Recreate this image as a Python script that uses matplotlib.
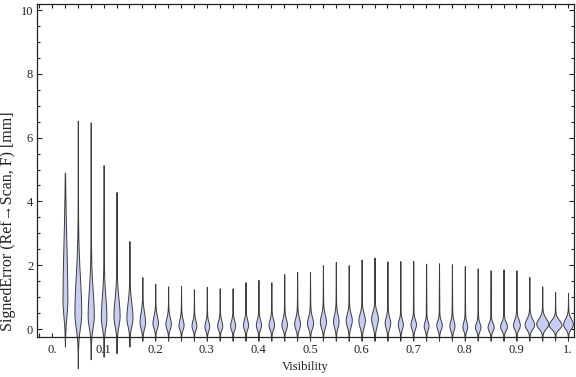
import numpy as np
import matplotlib
matplotlib.use("Agg")
import matplotlib.pyplot as plt
from matplotlib.ticker import FixedLocator, FixedFormatter, MultipleLocator

# ---- data ----
positions = [0.025, 0.05, 0.075, 0.1, 0.125, 0.15, 0.175, 0.2, 0.225, 0.25,
             0.275, 0.3, 0.325, 0.35, 0.375, 0.4, 0.425, 0.45, 0.475, 0.5,
             0.525, 0.55, 0.575, 0.6, 0.625, 0.65, 0.675, 0.7, 0.725, 0.75,
             0.775, 0.8, 0.825, 0.85, 0.875, 0.9, 0.925, 0.95, 0.975, 1.0]
mode_y = [0.9, 0.5, 0.4, 0.35, 0.4, 0.35, 0.22, 0.18, 0.15, 0.12,
          0.10, 0.08, 0.10, 0.10, 0.12, 0.12, 0.12, 0.13, 0.15, 0.18,
          0.22, 0.23, 0.28, 0.28, 0.33, 0.20, 0.15, 0.15, 0.10, 0.12,
          0.10, 0.08, 0.06, 0.06, 0.08, 0.12, 0.14, 0.16, 0.13, 0.15]
# full width of the violin at its widest point (x units)
peak_width = [0.0078, 0.0116, 0.0103, 0.0091, 0.0103, 0.0103, 0.0091, 0.0091, 0.0091, 0.0083,
              0.0078, 0.0078, 0.0083, 0.0083, 0.0083, 0.0083, 0.0091, 0.0091, 0.0097, 0.0103,
              0.0103, 0.0091, 0.0103, 0.0110, 0.0116, 0.0091, 0.0083, 0.0091, 0.0078, 0.0091,
              0.0083, 0.0078, 0.0091, 0.0103, 0.0116, 0.0116, 0.0169, 0.0219, 0.0233, 0.0174]
spread_up = [1.8, 1.1, 0.8, 0.65, 0.55, 0.45, 0.30, 0.22, 0.20, 0.18,
             0.16, 0.15, 0.16, 0.16, 0.17, 0.17, 0.18, 0.18, 0.20, 0.20,
             0.22, 0.22, 0.20, 0.20, 0.20, 0.17, 0.14, 0.14, 0.13, 0.14,
             0.16, 0.14, 0.13, 0.13, 0.14, 0.17, 0.17, 0.17, 0.15, 0.17]
spread_dn = [0.50, 0.45, 0.35, 0.30, 0.30, 0.25, 0.20, 0.15, 0.14, 0.13,
             0.12, 0.12, 0.12, 0.12, 0.13, 0.13, 0.13, 0.14, 0.15, 0.16,
             0.18, 0.18, 0.20, 0.22, 0.24, 0.18, 0.15, 0.15, 0.13, 0.13,
             0.14, 0.13, 0.12, 0.12, 0.12, 0.13, 0.14, 0.14, 0.12, 0.13]
min_y = [-0.55, -1.23, -0.95, -0.87, -0.76, -0.55, -0.37, -0.37, -0.37, -0.37,
         -0.37, -0.37, -0.37, -0.37, -0.37, -0.37, -0.37, -0.37, -0.37, -0.37,
         -0.37, -0.37, -0.37, -0.37, -0.37, -0.37, -0.37, -0.37, -0.37, -0.37,
         -0.37, -0.37, -0.37, -0.37, -0.37, -0.37, -0.37, -0.37, -0.37, -0.37]
max_y = [4.90, 6.53, 6.48, 5.14, 4.30, 2.76, 1.63, 1.42, 1.34, 1.35,
         1.25, 1.32, 1.28, 1.28, 1.47, 1.54, 1.47, 1.72, 1.79, 1.79,
         2.00, 2.10, 2.00, 2.18, 2.24, 2.12, 2.13, 2.14, 2.05, 2.06,
         2.03, 1.97, 1.90, 1.84, 1.87, 1.84, 1.63, 1.34, 1.16, 1.13]

xtick_vals = [0.0, 0.1, 0.2, 0.3, 0.4, 0.5, 0.6, 0.7, 0.8, 0.9, 1.0]
xtick_labels = ["0.", "0.1", "0.2", "0.3", "0.4", "0.5", "0.6", "0.7", "0.8", "0.9", "1."]
ytick_vals = [0, 2, 4, 6, 8, 10]
ytick_labels = ["0", "2", "4", "6", "8", "10"]

xlabel = "Visibility"
ylabel = "SignedError (Ref\u2192Scan, F) [mm]"

# ---- figure ----
W, H = 576, 377
fig = plt.figure(figsize=(W / 100, H / 100), dpi=100)
L, R, T, B = 36.7, 574.0, 4.3, 337.3
ax = fig.add_axes([L / W, 1 - B / H, (R - L) / W, (B - T) / H])
ax.set_xlim(-0.0297, 1.0116)
ax.set_ylim(-0.26, 10.18)

tail = 0.0008
stats = []
widths = []
for m, pw, su, sd, lo, hi in zip(mode_y, peak_width, spread_up, spread_dn, min_y, max_y):
    ys = np.linspace(lo, hi, 600)
    half = pw / 2
    upper = half * np.exp(-0.5 * ((ys - m) / su) ** 2) + tail * (hi - ys) / (hi - m)
    lower = half * np.exp(-0.5 * ((ys - m) / sd) ** 2) + tail * (ys - lo) / (m - lo)
    vals = np.where(ys >= m, upper, lower)
    vals = np.clip(vals, 0, None)
    stats.append(dict(coords=ys, vals=vals, mean=m, median=m, min=lo, max=hi, quantiles=[]))
    widths.append(2 * vals.max())

parts = ax.violin(stats, positions=positions, widths=widths, vert=True,
                  showmeans=False, showextrema=False, showmedians=False)
for b in parts["bodies"]:
    b.set_facecolor("#c8cdf3")
    b.set_edgecolor("#3c3c3c")
    b.set_linewidth(0.7)
    b.set_alpha(1)
    b.set_clip_on(False)
    b.set_zorder(2)

serif = ["Liberation Serif", "DejaVu Serif"]
ax.xaxis.set_major_locator(FixedLocator(xtick_vals))
ax.xaxis.set_major_formatter(FixedFormatter(xtick_labels))
ax.xaxis.set_minor_locator(MultipleLocator(0.025))
ax.yaxis.set_major_locator(FixedLocator(ytick_vals))
ax.yaxis.set_major_formatter(FixedFormatter(ytick_labels))
ax.yaxis.set_minor_locator(MultipleLocator(0.5))

ax.tick_params(axis="x", which="both", direction="in", top=True, bottom=True,
               length=2.9, width=0.8, color="#222222", pad=5)
ax.tick_params(axis="y", which="major", direction="in", left=True, right=True,
               length=3.6, width=0.8, color="#222222", pad=2.5)
ax.tick_params(axis="y", which="minor", direction="in", left=True, right=True,
               length=2.0, width=0.8, color="#222222")
for lab in ax.get_xticklabels() + ax.get_yticklabels():
    lab.set_fontfamily(serif)
    lab.set_fontsize(9)
    lab.set_color("#222222")

for s in ax.spines.values():
    s.set_linewidth(0.9)
    s.set_color("#222222")
    s.set_zorder(3)

ax.set_xlabel(xlabel, family=serif, fontsize=9, color="#222222")
ax.set_ylabel(ylabel, family=serif, fontsize=11.5, color="#222222")
ax.xaxis.set_label_coords(0.4994, -0.071)
ax.yaxis.set_label_coords(-0.038, 0.35)

fig.savefig("out.png", dpi=100)
